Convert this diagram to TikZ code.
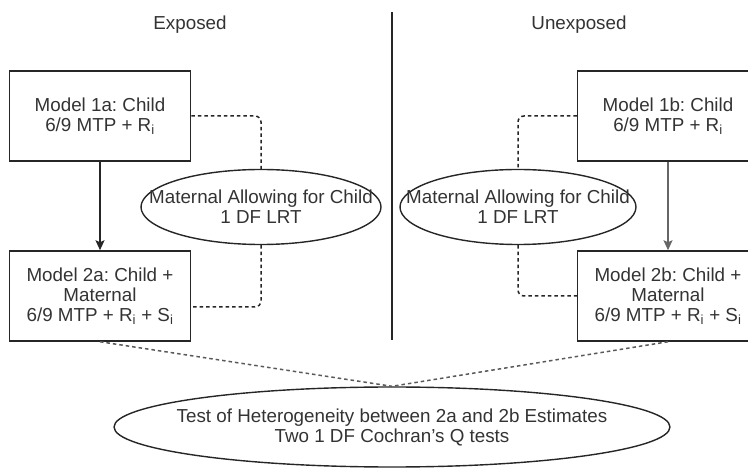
\documentclass[tikz,border=0pt]{standalone}
\usepackage{fontspec}
\setmainfont{Liberation Sans}
\frenchspacing
\usetikzlibrary{shapes}
\usetikzlibrary{positioning}
\usetikzlibrary{arrows.meta}
\definecolor{inkgray}{HTML}{333333}
\definecolor{linegray}{HTML}{262626}
\tikzset{
    modelbox/.style = {rectangle, draw=black!85, line width=1.5pt, minimum width=181pt, minimum height=90pt, inner sep=0pt, align=center, text=inkgray},
    testoval/.style = {ellipse, draw=black!85, line width=1.4pt, inner sep=0pt},
    ovaltext/.style = {label={[align=center, text=inkgray]center:#1}},
    headtext/.style = {text=inkgray},
    edgen/.style = {-{Stealth[length=10pt, width=9pt, inset=2pt]}, line width=1.5pt, black!85},
    edgeg/.style = {-{Stealth[length=10pt, width=9pt, inset=2pt]}, line width=1.5pt, black!60},
    linkd/.style = {line width=1.5pt, linegray, dash pattern=on 3.5pt off 3pt, rounded corners=6pt},
    every picture/.style={font issue=\fontsize{18.8}{20}},
    font issue/.style={execute at begin picture={#1\selectfont}
  }
}

\begin{document}
\begin{tikzpicture}[x=1pt, y=-1pt]
\path[use as bounding box] (0,0) rectangle (748,470);
%
\node[headtext] at (190,25) (expo) {Exposed};
\node[headtext] at (579,25) (unexpo) {Unexposed};
\draw[line width=1.5pt, black!85] (392,12) coordinate (divtop) -- (392,340) coordinate (divbot);
%
\node[modelbox] at (100,116) (m1a) {Model 1a: Child\\6/9 MTP + R\textsubscript{i}};
\node[modelbox] at (100,296) (m2a) {Model 2a: Child +\\Maternal\\6/9 MTP + R\textsubscript{i} + S\textsubscript{i}};
\node[modelbox] at (668,116) (m1b) {Model 1b: Child\\6/9 MTP + R\textsubscript{i}};
\node[modelbox] at (668,296) (m2b) {Model 2b: Child +\\Maternal\\6/9 MTP + R\textsubscript{i} + S\textsubscript{i}};
%
\node[testoval, minimum width=240pt, minimum height=75pt, ovaltext={Maternal Allowing for Child\\1 DF LRT}] at (261,207) (lrta) {};
\node[testoval, minimum width=236pt, minimum height=75pt, ovaltext={Maternal Allowing for Child\\1 DF LRT}] at (518,207) (lrtb) {};
\node[testoval, minimum width=556pt, minimum height=80pt, ovaltext={Test of Heterogeneity between 2a and 2b Estimates\\Two 1 DF Cochran's Q tests}] at (392,427) (hetero) {};
%
\draw[edgen] (m1a) -- (m2a);
\draw[edgeg] (m1b) -- (m2b);
%
\draw[linkd] (m1a.east) -| (lrta.north);
\draw[linkd] (lrta.south) |- ([yshift=-11pt]m2a.east);
\draw[linkd] (m1b.west) -| (lrtb.north);
\draw[linkd] (lrtb.south) |- (m2b.west);
\draw[linkd, black!65] (m2a.south) -- (hetero.north);
\draw[linkd, black!65] (m2b.south) -- (hetero.north);

\end{tikzpicture}
\end{document}
